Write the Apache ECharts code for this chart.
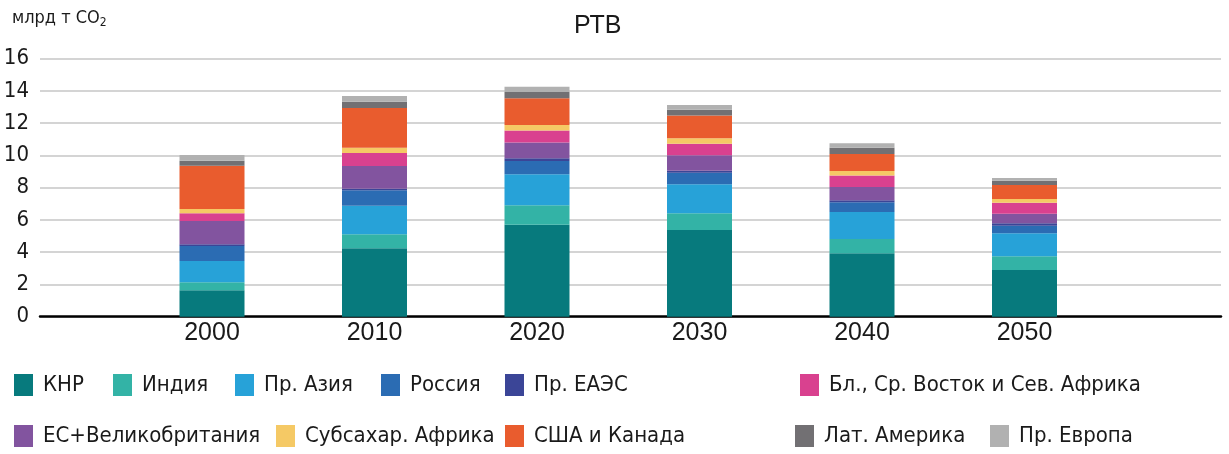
<!DOCTYPE html>
<html>
<head>
<meta charset="utf-8">
<script src="https://cdn.jsdelivr.net/npm/echarts@6/dist/echarts.min.js"></script>
<style>
  html, body { margin: 0; padding: 0; background: #fff; }
  #chart { width: 1229px; height: 454px; }
</style>
</head>
<body>
<div id="chart"></div>
<script>
// years on the x axis
const years = ['2000', '2010', '2020', '2030', '2040', '2050']

// emissions, bn t CO2 (stack order, bottom to top)
const china = [1.64, 4.24, 5.71, 5.38, 3.93, 2.90]
const india = [0.49, 0.87, 1.20, 1.03, 0.89, 0.85]
const otherAsia = [1.32, 1.77, 1.92, 1.80, 1.67, 1.42]
const russia = [0.93, 0.96, 0.83, 0.72, 0.60, 0.47]
const otherEaeu = [0.11, 0.10, 0.16, 0.12, 0.13, 0.15]
const euUk = [1.44, 1.41, 0.99, 0.96, 0.82, 0.60]
const mena = [0.48, 0.80, 0.73, 0.72, 0.71, 0.68]
const ssAfrica = [0.27, 0.33, 0.35, 0.33, 0.29, 0.23]
const usCanada = [2.68, 2.46, 1.65, 1.41, 1.05, 0.87]
const latAm = [0.31, 0.39, 0.40, 0.37, 0.39, 0.26]
const otherEurope = [0.36, 0.36, 0.32, 0.29, 0.27, 0.17]

const yTicks = [0, 2, 4, 6, 8, 10, 12, 14, 16]

const narrow = "'Liberation Sans Narrow', 'DejaVu Sans Condensed', 'Liberation Sans', sans-serif"
const regular = "'Liberation Sans', Roboto, sans-serif"

const seriesDefs = [
    { name: 'КНР', data: china, color: '#077a7d' },
    { name: 'Индия', data: india, color: '#33b3a6' },
    { name: 'Пр. Азия', data: otherAsia, color: '#27a2d8' },
    { name: 'Россия', data: russia, color: '#2b6cb3' },
    { name: 'Пр. ЕАЭС', data: otherEaeu, color: '#3b4597' },
    { name: 'ЕС+Великобритания', data: euUk, color: '#82549f' },
    { name: 'Бл., Ср. Восток и Сев. Африка', data: mena, color: '#d9418f' },
    { name: 'Субсахар. Африка', data: ssAfrica, color: '#f5c965' },
    { name: 'США и Канада', data: usCanada, color: '#e95c2e' },
    { name: 'Лат. Америка', data: latAm, color: '#727073' },
    { name: 'Пр. Европа', data: otherEurope, color: '#b1b1b1' },
]

// legend slots [name, left, top]
const legendSlots = [
    ['КНР', 14, 374], ['Индия', 113, 374], ['Пр. Азия', 235, 374],
    ['Россия', 381, 374], ['Пр. ЕАЭС', 505, 374], ['Бл., Ср. Восток и Сев. Африка', 800, 374],
    ['ЕС+Великобритания', 14, 425], ['Субсахар. Африка', 276, 425], ['США и Канада', 505, 425],
    ['Лат. Америка', 795, 425], ['Пр. Европа', 990, 425],
]

const chart = echarts.init(document.getElementById('chart'))

const series = seriesDefs.map(s => ({
    type: 'bar',
    name: s.name,
    stack: 'total',
    xAxisIndex: 1,
    yAxisIndex: 1,
    barWidth: 65,
    itemStyle: { color: s.color },
    data: s.data,
}))

chart.setOption({
    animation: false,
    title: {
        text: 'РТВ',
        left: 569,
        top: 9,
        textStyle: { fontFamily: regular, fontSize: 25, fontWeight: 'normal', color: '#1a1a1a' },
    },
    graphic: [
        {
            type: 'text',
            left: 12,
            top: 9,
            style: {
                text: '{a|млрд т CO}{b|2}',
                rich: {
                    a: { fontFamily: narrow, fontSize: 18, fill: '#1a1a1a' },
                    b: { fontFamily: narrow, fontSize: 12, fill: '#1a1a1a', padding: [10, 0, 0, 0] },
                },
            },
        },
    ],
    legend: legendSlots.map(([name, left, top]) => ({
        data: [name],
        left: left,
        top: top,
        padding: 0,
        icon: 'rect',
        itemWidth: 19,
        itemHeight: 22,
        selectedMode: false,
        textStyle: { fontFamily: narrow, fontSize: 22, color: '#1a1a1a', padding: [0, 0, 0, 5] },
    })),
    grid: [
        { left: 40, right: 8, top: 58.7, bottom: 137.3 },
        { left: 130.75, width: 975, top: 58.7, bottom: 137.3 },
    ],
    xAxis: [
        {
            gridIndex: 0,
            type: 'value',
            min: 0,
            max: 1,
            axisLabel: { show: false },
            axisTick: { show: false },
            splitLine: { show: false },
            axisLine: { show: true, onZero: false, lineStyle: { color: '#000', width: 2.5 } },
        },
        {
            gridIndex: 1,
            type: 'category',
            data: years,
            axisLine: { show: false },
            axisTick: { show: false },
            axisLabel: { fontFamily: regular, fontSize: 25, color: '#1a1a1a', margin: 4 },
        },
    ],
    yAxis: [
        {
            gridIndex: 0,
            type: 'value',
            min: yTicks[0],
            max: yTicks[yTicks.length - 1],
            interval: 2,
            axisLine: { show: false },
            axisTick: { show: false },
            axisLabel: { fontFamily: narrow, fontSize: 22, color: '#1a1a1a', margin: 11 },
            splitLine: { lineStyle: { color: '#c6c6c6', width: 1.5 } },
        },
        {
            gridIndex: 1,
            type: 'value',
            min: yTicks[0],
            max: yTicks[yTicks.length - 1],
            interval: 2,
            show: false,
            splitLine: { show: false },
        },
    ],
    series: series,
})
</script>
</body>
</html>
